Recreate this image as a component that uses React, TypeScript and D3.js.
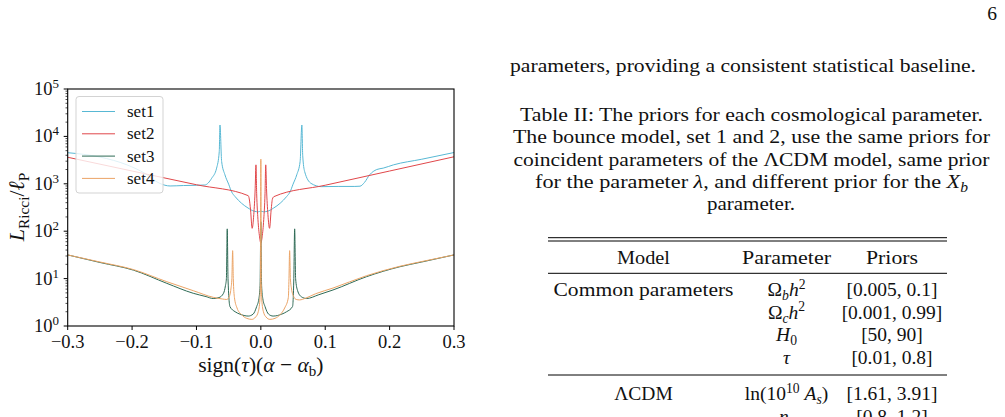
import React from 'react';
import * as d3 from 'd3';

// curve data (x = sign(tau)(alpha - alpha_b), y = L_Ricci / l_P)
const set1X = [-0.3, -0.25, -0.208, -0.18, -0.157, -0.141, -0.12, -0.1, -0.087, -0.0764, -0.0687, -0.0646, -0.0635, -0.0609, -0.0558, -0.05, -0.0454, -0.04, -0.03, -0.02, -0.01, -0.004, 0, 0.004, 0.01, 0.02, 0.03, 0.04, 0.0454, 0.05, 0.0558, 0.061, 0.0637, 0.065, 0.068, 0.078, 0.094, 0.12, 0.146, 0.154, 0.161, 0.169, 0.18, 0.19, 0.206, 0.25, 0.3];
const set1Y = [4530, 3670, 2510, 1660, 1020, 900, 920, 930, 944, 1306, 2140, 4790, 17400, 2950, 1550, 980, 676, 537, 389, 309, 263, 257, 265, 257, 263, 309, 389, 537, 676, 980, 1550, 2950, 17400, 4000, 1820, 1020, 871, 880, 880, 890, 1070, 1550, 2000, 2140, 2510, 3300, 4570];

const set2X = [-0.3, -0.2, -0.1, -0.0196, -0.018, -0.016, -0.0135, -0.011, -0.0088, -0.0076, -0.0065, -0.0045, -0.002, 0, 0.002, 0.0045, 0.0065, 0.0076, 0.0088, 0.011, 0.0135, 0.016, 0.018, 0.0204, 0.1, 0.2, 0.3];
const set2Y = [3630, 1860, 955, 562, 479, 282, 115, 224, 794, 2510, 631, 178, 76, 56, 76, 178, 631, 2510, 794, 224, 115, 282, 479, 537, 933, 1860, 3715];

const set3X = [-0.3, -0.25, -0.198, -0.146, -0.105, -0.085, -0.074, -0.065, -0.058, -0.055, -0.0535, -0.0522, -0.051, -0.048, -0.04, -0.0325, -0.0196, -0.012, -0.0065, -0.003, -0.0012, 0, 0.0012, 0.003, 0.0065, 0.012, 0.019, 0.0325, 0.04, 0.0492, 0.0512, 0.0525, 0.054, 0.057, 0.063, 0.071, 0.09, 0.112, 0.164, 0.216, 0.25, 0.3];
const set3Y = [31.6, 21.9, 15.1, 7.94, 4.9, 4.17, 3.8, 3.98, 4.9, 7.1, 10, 112, 10, 2.57, 2.0, 1.78, 1.62, 1.78, 2.57, 3.8, 7.1, 158, 7.1, 3.8, 2.57, 1.78, 1.62, 1.78, 2.0, 2.57, 10, 112, 10, 5.6, 4.13, 3.8, 4.57, 5.75, 10.96, 17.8, 22.4, 31.6];

const set4X = [-0.3, -0.25, -0.198, -0.146, -0.105, -0.074, -0.06, -0.053, -0.049, -0.0465, -0.045, -0.0438, -0.0428, -0.041, -0.037, -0.03, -0.022, -0.014, -0.008, -0.004, -0.0015, -0.0006, 0, 0.0006, 0.0015, 0.004, 0.008, 0.014, 0.022, 0.03, 0.037, 0.0427, 0.0437, 0.0447, 0.0459, 0.0477, 0.051, 0.055, 0.06, 0.07, 0.085, 0.112, 0.164, 0.216, 0.25, 0.3];
const set4Y = [31.6, 22.4, 15.5, 8.6, 5.56, 4.03, 3.72, 3.63, 4.17, 6.03, 10, 38.9, 10, 3.98, 2.4, 1.74, 1.45, 1.38, 1.55, 2.0, 3.55, 7.94, 3310, 7.94, 3.55, 2.0, 1.55, 1.38, 1.45, 1.74, 2.4, 3.98, 10, 38.9, 10, 6.03, 4.17, 3.63, 3.55, 3.89, 4.79, 6.31, 11.5, 18.2, 22.9, 31.6];

const seriesNames = ['set1', 'set2', 'set3', 'set4'];
const seriesColors = ['#58b8d4', '#e0474a', '#2e6a55', '#eba466'];
const xTicks = [-0.3, -0.2, -0.1, 0, 0.1, 0.2, 0.3];
const yExps = [0, 1, 2, 3, 4, 5];

const captionLines = [
  'Table II: The priors for each cosmological parameter.',
  'The bounce model, set 1 and 2, use the same priors for',
  'coincident parameters of the \u039BCDM model, same prior',
];

const FONT = "'Liberation Serif', 'DejaVu Serif', serif";

type Seg = [string, string?];

// small helper for text with italics / sub / superscripts
const Rich = ({ x, y, segs, size, anchor = 'middle', len, transform }: any) => {
  let cur = 0;
  const kids = (segs as Seg[]).map(([t, f = ''], k) => {
    const sub = f.includes('_');
    const sup = f.includes('^');
    const target = sub ? size * 0.22 : sup ? -size * 0.38 : 0;
    const dy = target - cur;
    cur = target;
    return (
      <tspan key={k} dy={dy} fontStyle={f.includes('i') ? 'italic' : 'normal'} fontSize={sub || sup ? size * 0.7 : size}>
        {t}
      </tspan>
    );
  });
  return (
    <text x={x} y={y} fontSize={size} textAnchor={anchor} textLength={len}
      lengthAdjust={len ? 'spacingAndGlyphs' : undefined} transform={transform} fill="#111">
      {kids}
    </text>
  );
};

const App = () => {
  const pl = 67.7, pr = 454, pt = 89, pb = 326;
  const x = d3.scaleLinear().domain([-0.3, 0.3]).range([pl, pr]);
  const y = d3.scaleLog().domain([1, 1e5]).range([pb, pt]);

  const sets = [[set1X, set1Y], [set2X, set2Y], [set3X, set3Y], [set4X, set4Y]];
  const paths = sets.map(([xs, ys]) =>
    d3.line<number>()
      .x((d, i) => x(xs[i]))
      .y(d => y(d))
      .curve(d3.curveMonotoneX)(ys) as string
  );

  const minor: number[] = [];
  yExps.slice(0, -1).forEach(e => d3.range(2, 10).forEach(k => minor.push(k * Math.pow(10, e))));

  const fmt = (v: number) => (v < 0 ? '\u2212' : '') + Math.abs(v).toFixed(1);

  // table layout
  const tl = 548, tr = 947;
  const cModel = 643.5, cPar = 786.5, cPri = 892;
  const rows: { m?: Seg[]; p: Seg[]; v: string; y: number }[] = [
    { m: [['Common parameters']], p: [['\u03A9'], ['b', 'i_'], ['h', 'i'], ['2', '^']], v: '[0.005, 0.1]', y: 296 },
    { p: [['\u03A9'], ['c', 'i_'], ['h', 'i'], ['2', '^']], v: '[0.001, 0.99]', y: 318.5 },
    { p: [['H', 'i'], ['0', '_']], v: '[50, 90]', y: 341 },
    { p: [['\u03C4', 'i']], v: '[0.01, 0.8]', y: 363.5 },
    { m: [['\u039BCDM']], p: [['ln(10'], ['10', '^'], [' '], ['A', 'i'], ['s', 'i_'], [')']], v: '[1.61, 3.91]', y: 400 },
    { p: [['n', 'i'], ['s', 'i_']], v: '[0.8, 1.2]', y: 423 },
  ];

  return (
    <svg width={1005} height={417} style={{ position: 'absolute', left: 0, top: 0, background: '#fff' }}
      fontFamily={FONT}>
      <rect width={1005} height={417} fill="#fff" />
      <defs>
        <clipPath id="plotClip">
          <rect x={pl} y={pt} width={pr - pl} height={pb - pt} />
        </clipPath>
      </defs>

      {/* curves */}
      <g clipPath="url(#plotClip)">
        {paths.map((d, i) => (
          <path key={i} d={d} fill="none" stroke={seriesColors[i]} strokeWidth={1} />
        ))}
      </g>

      {/* frame */}
      <rect x={pl} y={pt} width={pr - pl} height={pb - pt} fill="none" stroke="#000" strokeWidth={1.1} />

      {/* x axis */}
      {xTicks.map(t => (
        <g key={t}>
          <line x1={x(t)} x2={x(t)} y1={pb} y2={pb + 4} stroke="#000" strokeWidth={1} />
          <text x={x(t)} y={348} fontSize={18.5} textAnchor="middle" fill="#111">{fmt(t)}</text>
        </g>
      ))}
      <Rich x={(pl + pr) / 2} y={371.5} size={21.5}
        segs={[['sign('], ['\u03C4', 'i'], [')('], ['\u03B1', 'i'], [' \u2212 '], ['\u03B1', 'i'], ['b', '_'], [')']]} />

      {/* y axis */}
      {minor.map(v => (
        <line key={v} x1={pl - 2.2} x2={pl} y1={y(v)} y2={y(v)} stroke="#000" strokeWidth={0.7} />
      ))}
      {yExps.map(e => (
        <g key={e}>
          <line x1={pl - 4} x2={pl} y1={y(Math.pow(10, e))} y2={y(Math.pow(10, e))} stroke="#000" strokeWidth={1} />
          <Rich x={59} y={y(Math.pow(10, e)) + 6} size={18.5} anchor="end" segs={[['10'], [String(e), '^']]} />
        </g>
      ))}
      <Rich transform="translate(24,207) rotate(-90)" x={0} y={0} size={22}
        segs={[['L', 'i'], ['Ricci', '_'], ['/'], ['\u2113', 'i'], ['P', '_']]} />

      {/* legend */}
      <rect x={76} y={96.5} width={87} height={96.5} rx={3} fill="#fff" fillOpacity={0.8} stroke="#d3d3d3" strokeWidth={1} />
      {seriesNames.map((n, i) => (
        <g key={n}>
          <line x1={82} x2={115} y1={111.5 + i * 22.3} y2={111.5 + i * 22.3} stroke={seriesColors[i]} strokeWidth={1} />
          <text x={127} y={117 + i * 22.3} fontSize={17} fill="#111">{n}</text>
        </g>
      ))}

      {/* page text */}
      <text x={997} y={20} fontSize={19.5} textAnchor="end" fill="#111">6</text>
      <text x={510} y={72} fontSize={19.5} textLength={466} lengthAdjust="spacingAndGlyphs" fill="#111">
        parameters, providing a consistent statistical baseline.
      </text>
      {captionLines.map((l, i) => (
        <text key={i} x={751.5} y={121 + i * 22.4} fontSize={19.5} textAnchor="middle"
          textLength={[463, 477, 476][i]} lengthAdjust="spacingAndGlyphs" fill="#111">{l}</text>
      ))}
      <Rich x={751.5} y={188.2} size={19.5} len={433}
        segs={[['for the parameter '], ['\u03BB', 'i'], [', and different prior for the '], ['X', 'i'], ['b', 'i_']]} />
      <text x={751} y={209.5} fontSize={19.5} textAnchor="middle" textLength={88} lengthAdjust="spacingAndGlyphs" fill="#111">parameter.</text>

      {/* table */}
      <line x1={tl} x2={tr} y1={237.7} y2={237.7} stroke="#000" strokeWidth={1} />
      <line x1={tl} x2={tr} y1={241} y2={241} stroke="#000" strokeWidth={1} />
      <text x={cModel} y={263.5} fontSize={19.5} textAnchor="middle" textLength={53} lengthAdjust="spacingAndGlyphs" fill="#111">Model</text>
      <text x={cPar} y={263.5} fontSize={19.5} textAnchor="middle" textLength={89} lengthAdjust="spacingAndGlyphs" fill="#111">Parameter</text>
      <text x={cPri} y={263.5} fontSize={19.5} textAnchor="middle" textLength={52} lengthAdjust="spacingAndGlyphs" fill="#111">Priors</text>
      <line x1={tl} x2={tr} y1={273.3} y2={273.3} stroke="#000" strokeWidth={1} />
      <line x1={tl} x2={tr} y1={375} y2={375} stroke="#000" strokeWidth={1} />
      {rows.map((r, i) => (
        <g key={i}>
          {r.m && <Rich x={cModel} y={r.y} size={19.5} segs={r.m} len={i === 0 ? 180 : undefined} />}
          <Rich x={cPar} y={r.y} size={19.5} segs={r.p} />
          <text x={cPri} y={r.y} fontSize={19.5} textAnchor="middle" fill="#111">{r.v}</text>
        </g>
      ))}
    </svg>
  );
};

export default App;
